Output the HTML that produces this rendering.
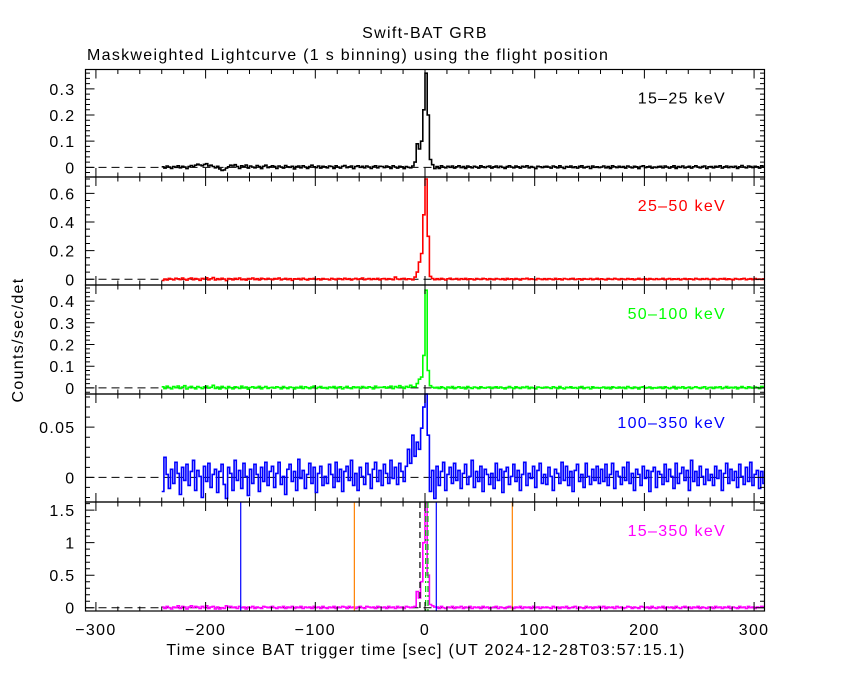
<!DOCTYPE html>
<html><head><meta charset="utf-8"><style>
html,body{margin:0;padding:0;background:#fff}
svg{display:block}
text{font-family:"Liberation Sans",sans-serif;font-size:16px;letter-spacing:1.3px;fill:#000}
</style></head><body>
<svg id="chart" width="850" height="680" viewBox="0 0 850 680" xmlns="http://www.w3.org/2000/svg">
<text x="425" y="38" text-anchor="middle">Swift-BAT GRB</text>
<text x="87" y="60">Maskweighted Lightcurve (1 s binning) using the flight position</text>
<text x="426" y="655" text-anchor="middle">Time since BAT trigger time [sec] (UT 2024-12-28T03:57:15.1)</text>
<text transform="translate(23,340) rotate(-90)" text-anchor="middle">Counts/sec/det</text>
<g id="plots"></g>
</svg>
<script>
const tStart = -240, binWidth = 2;
const xTicks = [-300,-200,-100,0,100,200,300];
const band1 = [2,-3,5,1,-4,3,0,6,-2,4,1,-5,3,7,2,8,12,9,6,11,14,5,8,3,-2,
4,-6,-12,-10,-3,2,8,5,10,3,-4,6,2,9,-3,5,1,-2,7,3,-5,4,8,-1,2,
6,3,-4,5,1,-3,7,2,0,4,-6,3,5,-2,6,1,-4,3,8,2,-1,5,-3,4,2,
-2,5,3,-4,6,1,-3,4,7,-1,2,5,-5,3,6,0,4,-2,5,1,-4,3,6,-2,4,
3,-1,5,2,-4,6,1,-3,4,2,-5,3,0,-2,5,20,90,70,100,220,360,200,30,10,-5,
3,-4,6,1,-2,4,0,5,-3,2,6,-1,3,-4,5,2,-2,4,1,-3,6,2,-1,3,5,
-3,2,5,-1,4,0,-4,3,6,1,-2,5,2,-3,4,1,6,-2,3,0,-5,4,2,-1,3,
4,1,-3,5,2,-2,6,0,-4,3,1,5,-1,2,-3,4,6,-2,1,3,-4,5,0,2,-1,
1,5,-2,3,-4,6,2,-1,4,0,3,-3,5,1,-2,4,2,-5,3,6,-1,2,4,-3,1,
-1,3,4,-2,5,1,-3,2,6,-4,3,0,5,-2,1,4,-3,2,6,1,-2,3,5,-4,2,
3,-2,4,1,6,-3,2,5,-1,3,0,4,-4,2,7,1,-2,5,3,-1,4,2,-3,6,1];
const band2 = [-8,2,-5,6,1,-4,7,3,-2,9,0,-6,4,8,-3,5,1,-7,6,2,10,-4,3,12,-5,
4,-2,7,1,-9,5,3,-4,6,0,8,-3,2,-6,5,1,9,-2,4,-5,7,3,-1,6,2,
-3,5,1,8,-4,2,6,-2,4,-7,3,1,5,-3,7,0,-5,4,2,6,-1,3,-4,5,1,
2,-4,6,1,-3,5,3,-2,7,0,4,-5,2,6,-1,3,8,-3,1,5,-2,4,0,6,-4,
3,5,-2,4,1,-3,15,2,-1,4,6,-2,3,1,-4,15,50,120,180,450,700,300,20,5,-3,
4,-2,6,1,-5,3,7,-1,2,5,-3,4,0,6,-2,3,1,-4,5,2,-1,6,3,-3,4,
1,-3,5,2,-1,4,-4,6,0,3,-2,5,1,-5,4,2,7,-1,3,0,-3,5,2,-2,4,
-2,4,1,-3,6,0,3,-4,5,2,-1,4,6,-2,1,3,-5,4,2,0,5,-3,1,6,-1,
3,0,-4,5,2,-1,6,1,-3,4,2,-2,5,0,3,-4,1,6,-1,2,4,-3,5,1,-2,
4,-1,2,6,-3,1,5,-2,3,0,4,-4,2,5,-1,3,1,-3,6,2,-2,4,0,5,-1,
-1,5,2,-3,4,1,6,-2,3,0,-4,5,2,-1,3,6,-3,1,4,-2,5,0,2,-1,3];
const band3 = [5,-3,8,2,-4,6,1,9,-2,4,10,-5,3,7,1,-4,6,2,-3,5,8,-1,3,12,-2,
4,-5,7,2,-3,6,1,-4,5,3,-2,8,0,4,-6,2,5,-1,3,7,-4,2,6,-2,1,
3,-1,5,2,-4,6,1,-3,4,2,-5,3,0,7,-2,5,1,-3,4,8,-2,3,6,-1,2,
-3,4,1,6,-2,3,5,-4,2,7,0,-3,5,1,4,-2,6,3,-1,5,2,-4,8,1,3,
2,5,-1,4,8,-3,6,2,10,4,-2,7,3,12,5,5,20,40,50,150,450,80,10,3,0,
3,-2,5,1,-4,4,0,6,-3,2,5,-1,3,-4,6,1,-2,4,2,-3,5,1,-1,3,4,
-2,3,5,-1,4,0,-4,2,6,1,-3,5,2,-2,4,1,6,-3,3,0,-4,4,2,-1,3,
4,1,-2,5,2,-3,6,0,-4,3,1,5,-1,2,-2,4,6,-3,1,3,-4,5,0,2,-1,
1,4,-2,3,-4,5,2,-1,4,0,3,-3,6,1,-2,4,2,-5,3,5,-1,2,4,-3,1,
-1,3,4,-2,5,1,-3,2,6,-4,3,0,5,-2,1,4,-3,2,5,1,-2,3,5,-4,2,
3,-2,4,1,5,-3,2,6,-1,3,0,4,-4,2,6,1,-2,5,3,-1,4,2,-3,7,3];
const band4 = [-14,20,3,-11,8,-6,15,4,-17,10,-3,13,-8,6,17,-13,7,1,-20,11,-4,14,-10,3,8,
-15,6,13,-7,-21,10,4,-13,17,-3,7,-11,14,1,-18,8,-6,13,3,-14,10,-4,15,-8,6,
11,-10,4,15,-7,1,-17,8,13,-4,6,-13,18,-1,7,-11,3,14,-6,10,-15,4,11,-8,1,
-6,13,3,-10,15,-4,8,-14,6,11,-3,17,-8,4,-13,10,1,-7,14,3,-11,8,15,-4,7,
-8,13,4,-6,17,-1,10,-7,14,6,-4,11,28,14,42,21,35,28,49,70,105,42,-14,7,-21,
11,-8,6,15,-13,3,10,-6,14,-3,7,-11,4,13,-7,1,17,-10,6,-4,11,-14,8,3,-7,
4,-11,14,-3,8,-15,6,10,-7,1,13,-4,7,-13,3,15,-8,4,-1,11,-10,7,14,-6,3,
-7,10,1,-13,8,4,-6,15,-3,11,-8,6,-14,7,13,-4,3,-10,14,1,-7,8,-3,11,-6,
8,-4,13,-8,3,14,-11,6,1,-7,10,-3,15,-6,4,-13,8,3,-8,11,-1,7,-14,6,10,
-10,6,3,-7,13,-4,8,1,-11,14,-6,4,10,-3,7,-13,17,-4,6,-8,11,1,-7,8,-3,
3,-8,11,-1,7,-13,4,14,-6,8,-3,6,-10,13,1,-7,10,-4,15,-8,3,7,-11,6,-6];
const band5 = [1,-1,2,0,-2,1,0,3,-1,2,1,-2,1,3,0,2,1,-1,2,0,3,-1,1,2,-2,
1,-2,0,-1,3,1,2,0,1,-1,2,0,1,-2,1,0,2,-1,1,0,-1,2,1,0,1,
2,0,-1,1,0,2,-1,1,0,2,-1,1,0,2,-1,1,0,1,-1,2,0,1,-1,2,0,
-1,1,0,2,-1,1,0,2,1,-1,2,0,1,-1,1,2,0,-1,2,1,0,1,-1,2,1,
0,1,-1,2,0,1,-1,2,0,1,-1,2,1,0,1,2,25,15,40,100,160,50,5,3,1,
1,-1,2,0,-1,1,0,2,-1,1,0,2,-1,1,0,2,-1,1,0,1,-1,2,0,1,-1,
0,1,2,-1,1,0,-1,1,2,0,-1,1,0,2,-1,1,0,1,-1,2,0,1,-1,1,0,
1,0,-1,2,0,1,-1,1,0,2,-1,0,1,2,-1,1,0,-1,2,0,1,-1,1,0,2,
0,2,-1,1,0,1,-1,2,0,1,-1,0,2,1,-1,1,0,-1,2,1,0,1,-1,2,0,
-1,1,0,2,-1,1,0,1,-1,2,0,-1,1,2,0,1,-1,1,0,2,-1,1,0,-1,1,
1,-1,2,0,1,-1,1,0,2,-1,1,0,-1,2,0,1,-1,2,0,1,-1,1,0,2,1];
const yTicks1 = [0,0.1,0.2,0.3], yTicks2 = [0,0.2,0.4,0.6], yTicks3 = [0,0.1,0.2,0.3,0.4], yTicks4 = [0,0.05], yTicks5 = [0,0.5,1,1.5];
const yTickLabels5 = ["0","0.5","1","1.5"];
const bandLabels = ["15\u201325 keV","25\u201350 keV","50\u2013100 keV","100\u2013350 keV","15\u2013350 keV"];
const blueLines = [-168, 10.3];
const orangeLines = [-64.4, 79.6];
const blackDashed = [-4.6];
const greenDashDot = [0.6, 2.7];

const NS = "http://www.w3.org/2000/svg";
const g = document.getElementById('plots');
const L = 85.5, R = 764.5, xMin = -309.5, xMax = 309.5;
const X = t => L + (t - xMin) / (xMax - xMin) * (R - L);
const panels = [
 {top:69.5, bot:177, yMin:-0.037, yMax:0.374, data:band1, scale:0.001, color:'#000', ticks:yTicks1, minor:0.02},
 {top:177, bot:285, yMin:-0.04, yMax:0.714, data:band2, scale:0.001, color:'#f00', ticks:yTicks2, minor:0.05},
 {top:285, bot:394, yMin:-0.028, yMax:0.474, data:band3, scale:0.001, color:'#0f0', ticks:yTicks3, minor:0.02},
 {top:394, bot:502, yMin:-0.0245, yMax:0.083, data:band4, scale:0.001, color:'#00f', ticks:yTicks4, minor:0.01},
 {top:502, bot:611, yMin:-0.05, yMax:1.625, data:band5, scale:0.01, color:'#f0f', ticks:yTicks5, minor:0.1}
];
function el(tag, attrs){const e=document.createElementNS(NS,tag);for(const k in attrs)e.setAttribute(k,attrs[k]);return e;}
function fmt(v){return String(+v.toFixed(3));}
panels.forEach((p,pi)=>{
  const Y = v => p.bot - (v - p.yMin)/(p.yMax - p.yMin)*(p.bot - p.top);
  const pg = el('g',{});
  
  
  g.appendChild(pg);
  const z = el('line',{x1:L,x2:R,y1:Y(0),y2:Y(0),stroke:'#000','stroke-width':1,'stroke-dasharray':'8,5'});
  
  
  pg.appendChild(z);
  let d='';
  p.data.forEach((v,i)=>{
    const t0 = tStart + i*binWidth, t1 = t0 + binWidth;
    const y = Y(Math.max(p.yMin, Math.min(p.yMax, v*p.scale)));
    d += (i===0?'M':'L') + X(t0).toFixed(1)+','+y.toFixed(1)+'L'+X(Math.min(t1,xMax)).toFixed(1)+','+y.toFixed(1);
  });
  const path = el('path',{d:d,fill:'none',stroke:p.color,'stroke-width':1.6});
  
  
  pg.appendChild(path);
  if(pi===4){
    const addV=(arr,color,dash,name)=>arr.forEach(t=>{
      const ln=el('line',{x1:X(t),x2:X(t),y1:p.top,y2:p.bot,stroke:color,'stroke-width':1.2});
      if(dash) ln.setAttribute('stroke-dasharray',dash);
      
      
      pg.appendChild(ln);
    });
    addV(blueLines,'#00f',null,'t90-marker');
    addV(orangeLines,'#ff8000',null,'background-marker');
    addV(blackDashed,'#000','6,4','trigger-marker');
    addV(greenDashDot,'#0c0','6,3,2,3','peak-marker');
  }
  const fr = el('rect',{x:L,y:p.top,width:R-L,height:p.bot-p.top,fill:'none',stroke:'#000','stroke-width':1.2});
  
  
  pg.appendChild(fr);
  let td='';
  for(let t=-300;t<=300;t+=20){
    const len = (t%100===0)?9:4.5;
    td+='M'+X(t)+','+p.top+'v'+len+'M'+X(t)+','+p.bot+'v'+(-len);
  }
  for(let v=Math.ceil(p.yMin/p.minor)*p.minor; v<=p.yMax+1e-9; v+=p.minor){
    const isMaj = p.ticks.some(m=>Math.abs(m-v)<1e-9);
    const len = isMaj?9:4.5;
    td+='M'+L+','+Y(v)+'h'+len+'M'+R+','+Y(v)+'h'+(-len);
  }
  const tk = el('path',{d:td,stroke:'#000','stroke-width':1,fill:'none'});
  
  
  pg.appendChild(tk);
  p.ticks.forEach((v,k)=>{
    const tx = el('text',{x:L-10,y:Y(v)+6,'text-anchor':'end'});
    tx.textContent = pi===4 ? yTickLabels5[k] : fmt(v);
    
    
    pg.appendChild(tx);
  });
  const lb = el('text',{x:726,y:p.top+34,'text-anchor':'end',fill:p.color});
  lb.style.fill = p.color;
  lb.textContent = bandLabels[pi];
  
  
  pg.appendChild(lb);
});
xTicks.forEach(t=>{
  const tx = el('text',{x:X(t),y:635,'text-anchor':'middle'});
  tx.textContent = t<0 ? '\u2212'+Math.abs(t) : String(t);
  
  
  g.appendChild(tx);
});
</script>
</body></html>
